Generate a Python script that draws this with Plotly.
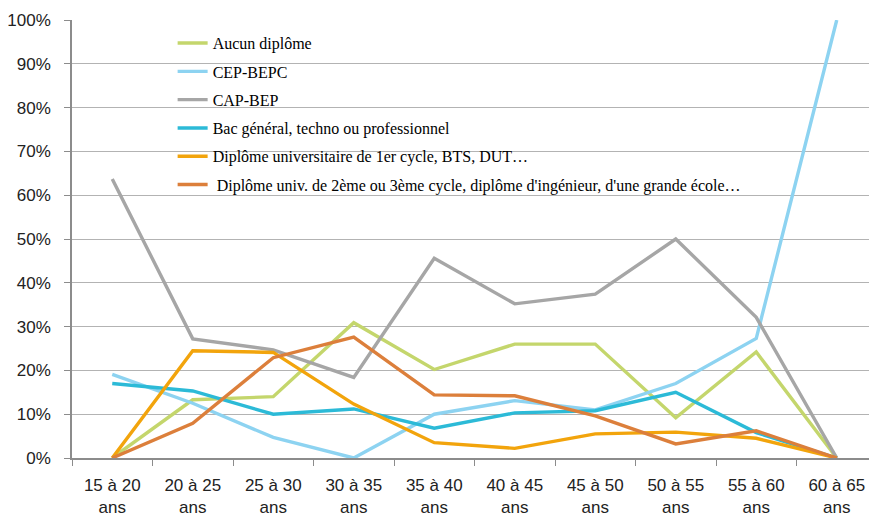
import plotly.graph_objects as go

categories = ["15 à 20<br>ans", "20 à 25<br>ans", "25 à 30<br>ans", "30 à 35<br>ans", "35 à 40<br>ans",
              "40 à 45<br>ans", "45 à 50<br>ans", "50 à 55<br>ans", "55 à 60<br>ans", "60 à 65<br>ans"]

aucun = [0, 13.3, 14.0, 30.9, 20.2, 26.0, 26.0, 9.2, 24.2, 0]
cep = [19.1, 12.5, 4.7, 0, 10.0, 13.1, 11.0, 17.0, 27.3, 100]
cap = [63.7, 27.2, 24.7, 18.4, 45.6, 35.2, 37.4, 50.0, 32.1, 0]
bac = [17.0, 15.3, 10.0, 11.2, 6.8, 10.3, 10.8, 15.0, 5.8, 0]
univ1 = [0, 24.5, 24.1, 12.3, 3.5, 2.2, 5.5, 5.9, 4.5, 0]
univ2 = [0, 7.9, 22.9, 27.6, 14.4, 14.2, 9.6, 3.2, 6.2, 0]

series_names = [
    "Aucun diplôme",
    "CEP-BEPC",
    "CAP-BEP",
    "Bac général, techno ou professionnel",
    "Diplôme universitaire de 1er cycle, BTS, DUT…",
    " Diplôme univ. de 2ème ou 3ème cycle, diplôme d'ingénieur, d'une grande école…",
]
series_values = [aucun, cep, cap, bac, univ1, univ2]
colors = ["#C4D66C", "#8DD3F1", "#A6A6A6", "#2CBAD7", "#F2A40C", "#DC7F3B"]

fig = go.Figure()
for i, (name, vals, col) in enumerate(zip(series_names, series_values, colors)):
    fig.add_trace(go.Scatter(
        x=categories, y=[v / 100 for v in vals], mode="lines", name=name,
        line=dict(color=col, width=3.4), legendgroup=str(i),
    ))

# page body has an 8px default margin, so the figure is sized to fit inside the window
fig.update_layout(
    width=869, height=512,
    margin=dict(l=64, r=0, t=12, b=62),
    paper_bgcolor="white", plot_bgcolor="white",
    showlegend=True,
    legend=dict(
        x=0.125, y=0.986, xanchor="left", yanchor="top",
        bgcolor="rgba(0,0,0,0)",
        font=dict(family="Liberation Serif, Times New Roman, serif", size=16, color="#000"),
        tracegroupgap=4.5, itemwidth=30,
    ),
    xaxis=dict(
        type="category", tickson="boundaries", ticks="outside", ticklen=6,
        tickcolor="#8C8C8C", showline=True, linecolor="#8C8C8C", linewidth=1.5,
        showgrid=False, automargin=False, ticklabelstandoff=11,
        tickfont=dict(family="Liberation Sans, Arial, sans-serif", size=17, color="#222"),
        range=[-0.5, 9.5],
    ),
    yaxis=dict(
        range=[0, 1], dtick=0.1, tickformat=".0%", ticks="outside", ticklen=6,
        tickcolor="#8C8C8C", showline=True, linecolor="#8C8C8C", linewidth=1.5,
        showgrid=True, gridcolor="#B3B3B3", gridwidth=1.3, zeroline=False, automargin=False,
        ticklabelstandoff=10,
        tickfont=dict(family="Liberation Sans, Arial, sans-serif", size=17, color="#222"),
    ),
)

fig.write_html("out.html")
